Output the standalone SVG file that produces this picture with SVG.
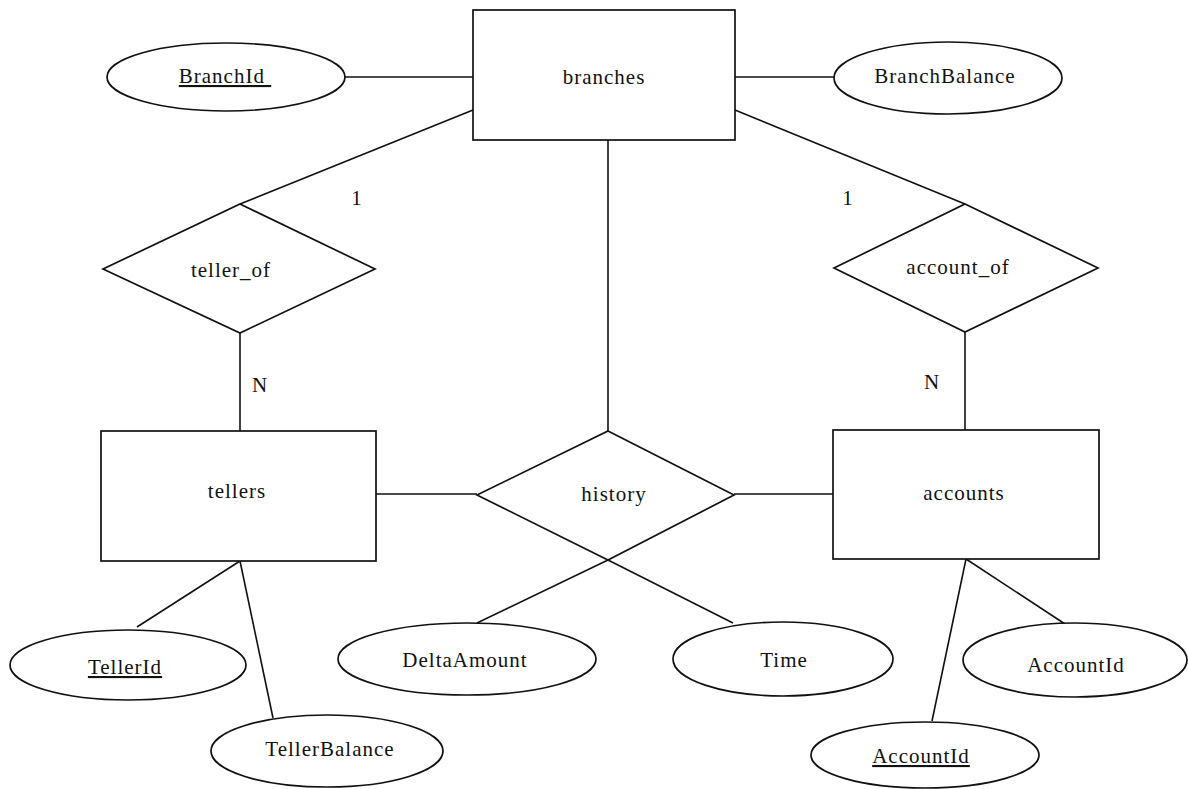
<svg xmlns="http://www.w3.org/2000/svg" width="1188" height="789" viewBox="0 0 1188 789">
<style>
.s{fill:#fff;stroke:#111;stroke-width:1.7}
.c line{stroke:#111;stroke-width:1.6}
text{font-family:"Liberation Serif","Times New Roman",serif;font-size:21px;letter-spacing:1px;fill:#111;text-anchor:middle}
.u{text-decoration:underline}
</style>
<rect width="1188" height="789" fill="#fff"/>
<g id="connectors" class="c">
<line x1="345" y1="77" x2="473" y2="77"/>
<line x1="735" y1="77" x2="835" y2="77"/>
<line x1="473" y1="110" x2="240" y2="204"/>
<line x1="735" y1="110" x2="965" y2="204"/>
<line x1="240" y1="333" x2="240" y2="431"/>
<line x1="965" y1="332" x2="965" y2="430"/>
<line x1="608" y1="140" x2="608" y2="431"/>
<line x1="376" y1="494" x2="477" y2="494"/>
<line x1="734" y1="494" x2="833" y2="494"/>
<line x1="608" y1="560" x2="733" y2="623"/>
<line x1="608" y1="560" x2="477" y2="623"/>
<line x1="240" y1="561" x2="137" y2="627"/>
<line x1="240" y1="561" x2="273" y2="718"/>
<line x1="966" y1="559" x2="1065" y2="624"/>
<line x1="966" y1="559" x2="932" y2="721"/>
<text x="357" y="205">1</text>
<text x="848" y="205">1</text>
<text x="260" y="392">N</text>
<text x="932" y="389">N</text>
</g>
<g id="branches"><rect class="s" x="473" y="10" width="262" height="130"/><text x="604" y="84">branches</text></g>
<g id="BranchId"><ellipse class="s" cx="226" cy="77" rx="119" ry="34"/><text class="u" x="225" y="83" xml:space="preserve">BranchId&#160;</text></g>
<g id="BranchBalance"><ellipse class="s" cx="948" cy="78" rx="114" ry="36"/><text x="945" y="83">BranchBalance</text></g>
<g id="teller_of"><polygon class="s" points="240,204 375,269 240,333 103,269"/><text x="231" y="277">teller_of</text></g>
<g id="account_of"><polygon class="s" points="965,204 1098,268 965,332 834,268"/><text x="958" y="274">account_of</text></g>
<g id="tellers"><rect class="s" x="101" y="431" width="275" height="130"/><text x="237" y="498">tellers</text></g>
<g id="accounts"><rect class="s" x="833" y="430" width="266" height="129"/><text x="964" y="500">accounts</text></g>
<g id="history"><polygon class="s" points="608,431 734,495 608,560 477,495"/><text x="614" y="501">history</text></g>
<g id="TellerId"><ellipse class="s" cx="128" cy="665" rx="118" ry="35"/><text class="u" x="125" y="674">TellerId</text></g>
<g id="TellerBalance"><ellipse class="s" cx="327" cy="751" rx="116" ry="36"/><text x="330" y="756">TellerBalance</text></g>
<g id="DeltaAmount"><ellipse class="s" cx="467" cy="659" rx="129" ry="36"/><text x="465" y="667">DeltaAmount</text></g>
<g id="Time"><ellipse class="s" cx="783" cy="659" rx="110" ry="37"/><text x="784" y="667">Time</text></g>
<g id="AccountId"><ellipse class="s" cx="1075" cy="660" rx="112" ry="37"/><text x="1076" y="672">AccountId</text></g>
<g id="AccountIdKey"><ellipse class="s" cx="925" cy="755" rx="114" ry="33"/><text class="u" x="921" y="763">AccountId</text></g>
</svg>
